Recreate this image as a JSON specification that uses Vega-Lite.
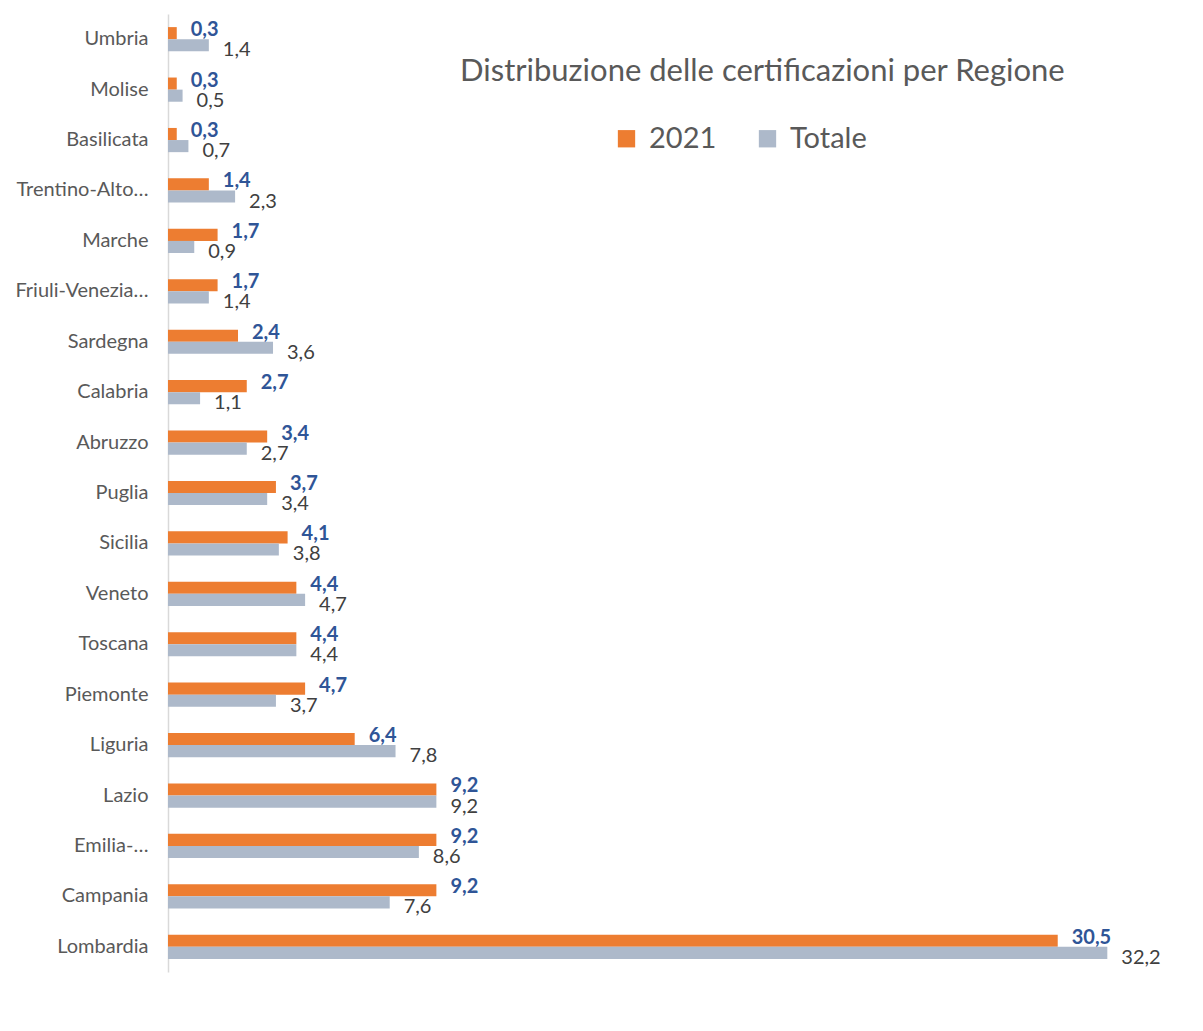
{
  "$schema": "https://vega.github.io/schema/vega-lite/v6.json",
  "autosize": "none",
  "width": 1021,
  "height": 958,
  "padding": {"left": 168, "top": 14, "right": 14, "bottom": 59},
  "background": "white",
  "title": {
    "text": "Distribuzione delle certificazioni per Regione",
    "anchor": "start",
    "frame": "group",
    "dx": 292,
    "dy": 74,
    "offset": 0,
    "font": "Lato",
    "fontSize": 31,
    "fontWeight": "normal",
    "color": "#595959"
  },
  "data": {
    "values": [
      {"region": "Umbria", "series": "2021", "value": 0.3},
      {"region": "Umbria", "series": "Totale", "value": 1.4},
      {"region": "Molise", "series": "2021", "value": 0.3},
      {"region": "Molise", "series": "Totale", "value": 0.5},
      {"region": "Basilicata", "series": "2021", "value": 0.3},
      {"region": "Basilicata", "series": "Totale", "value": 0.7},
      {"region": "Trentino-Alto…", "series": "2021", "value": 1.4},
      {"region": "Trentino-Alto…", "series": "Totale", "value": 2.3},
      {"region": "Marche", "series": "2021", "value": 1.7},
      {"region": "Marche", "series": "Totale", "value": 0.9},
      {"region": "Friuli-Venezia…", "series": "2021", "value": 1.7},
      {"region": "Friuli-Venezia…", "series": "Totale", "value": 1.4},
      {"region": "Sardegna", "series": "2021", "value": 2.4},
      {"region": "Sardegna", "series": "Totale", "value": 3.6},
      {"region": "Calabria", "series": "2021", "value": 2.7},
      {"region": "Calabria", "series": "Totale", "value": 1.1},
      {"region": "Abruzzo", "series": "2021", "value": 3.4},
      {"region": "Abruzzo", "series": "Totale", "value": 2.7},
      {"region": "Puglia", "series": "2021", "value": 3.7},
      {"region": "Puglia", "series": "Totale", "value": 3.4},
      {"region": "Sicilia", "series": "2021", "value": 4.1},
      {"region": "Sicilia", "series": "Totale", "value": 3.8},
      {"region": "Veneto", "series": "2021", "value": 4.4},
      {"region": "Veneto", "series": "Totale", "value": 4.7},
      {"region": "Toscana", "series": "2021", "value": 4.4},
      {"region": "Toscana", "series": "Totale", "value": 4.4},
      {"region": "Piemonte", "series": "2021", "value": 4.7},
      {"region": "Piemonte", "series": "Totale", "value": 3.7},
      {"region": "Liguria", "series": "2021", "value": 6.4},
      {"region": "Liguria", "series": "Totale", "value": 7.8},
      {"region": "Lazio", "series": "2021", "value": 9.2},
      {"region": "Lazio", "series": "Totale", "value": 9.2},
      {"region": "Emilia-…", "series": "2021", "value": 9.2},
      {"region": "Emilia-…", "series": "Totale", "value": 8.6},
      {"region": "Campania", "series": "2021", "value": 9.2},
      {"region": "Campania", "series": "Totale", "value": 7.6},
      {"region": "Lombardia", "series": "2021", "value": 30.5},
      {"region": "Lombardia", "series": "Totale", "value": 32.2}
    ]
  },
  "encoding": {
    "y": {
      "field": "region",
      "type": "nominal",
      "sort": ["Umbria", "Molise", "Basilicata", "Trentino-Alto…", "Marche", "Friuli-Venezia…", "Sardegna", "Calabria", "Abruzzo", "Puglia", "Sicilia", "Veneto", "Toscana", "Piemonte", "Liguria", "Lazio", "Emilia-…", "Campania", "Lombardia"],
      "scale": {"paddingInner": 0.52, "paddingOuter": 0.26},
      "axis": {
        "title": null,
        "ticks": false,
        "domainColor": "#D9D9D9",
        "domainWidth": 1.5,
        "labelPadding": 20,
        "labelFont": "Lato",
        "labelFontSize": 20,
        "labelColor": "#595959",
        "labelLimit": 0,
        "grid": false
      }
    },
    "yOffset": {"field": "series", "type": "nominal", "sort": ["2021", "Totale"]},
    "x": {
      "field": "value",
      "type": "quantitative",
      "scale": {"domain": [0, 35]},
      "axis": null
    }
  },
  "layer": [
    {
      "mark": {"type": "bar"},
      "encoding": {
        "color": {
          "field": "series",
          "type": "nominal",
          "scale": {"domain": ["2021", "Totale"], "range": ["#ED7D31", "#ADB9CA"]},
          "legend": {
            "title": null,
            "orient": "none",
            "legendX": 444,
            "legendY": 110,
            "direction": "horizontal",
            "symbolType": "square",
            "symbolSize": 300,
            "symbolStrokeWidth": 0,
            "labelFont": "Lato",
            "labelFontSize": 29,
            "labelColor": "#595959",
            "columnPadding": 36,
            "labelOffset": 8
          }
        }
      }
    },
    {
      "transform": [{"filter": "datum.series === '2021'"}],
      "mark": {"type": "text", "align": "left", "baseline": "middle", "dx": 14, "dy": -3, "font": "Lato", "fontSize": 20, "fontWeight": "bold", "color": "#2F5597"},
      "encoding": {"text": {"field": "value", "type": "quantitative", "format": ".1f"}}
    },
    {
      "transform": [{"filter": "datum.series === 'Totale'"}],
      "mark": {"type": "text", "align": "left", "baseline": "middle", "dx": 14, "dy": 5, "font": "Lato", "fontSize": 20, "color": "#404040"},
      "encoding": {"text": {"field": "value", "type": "quantitative", "format": ".1f"}}
    }
  ],
  "config": {
    "view": {"stroke": null},
    "locale": {"number": {"decimal": ",", "thousands": ".", "grouping": [3], "currency": ["€", ""]}}
  }
}
